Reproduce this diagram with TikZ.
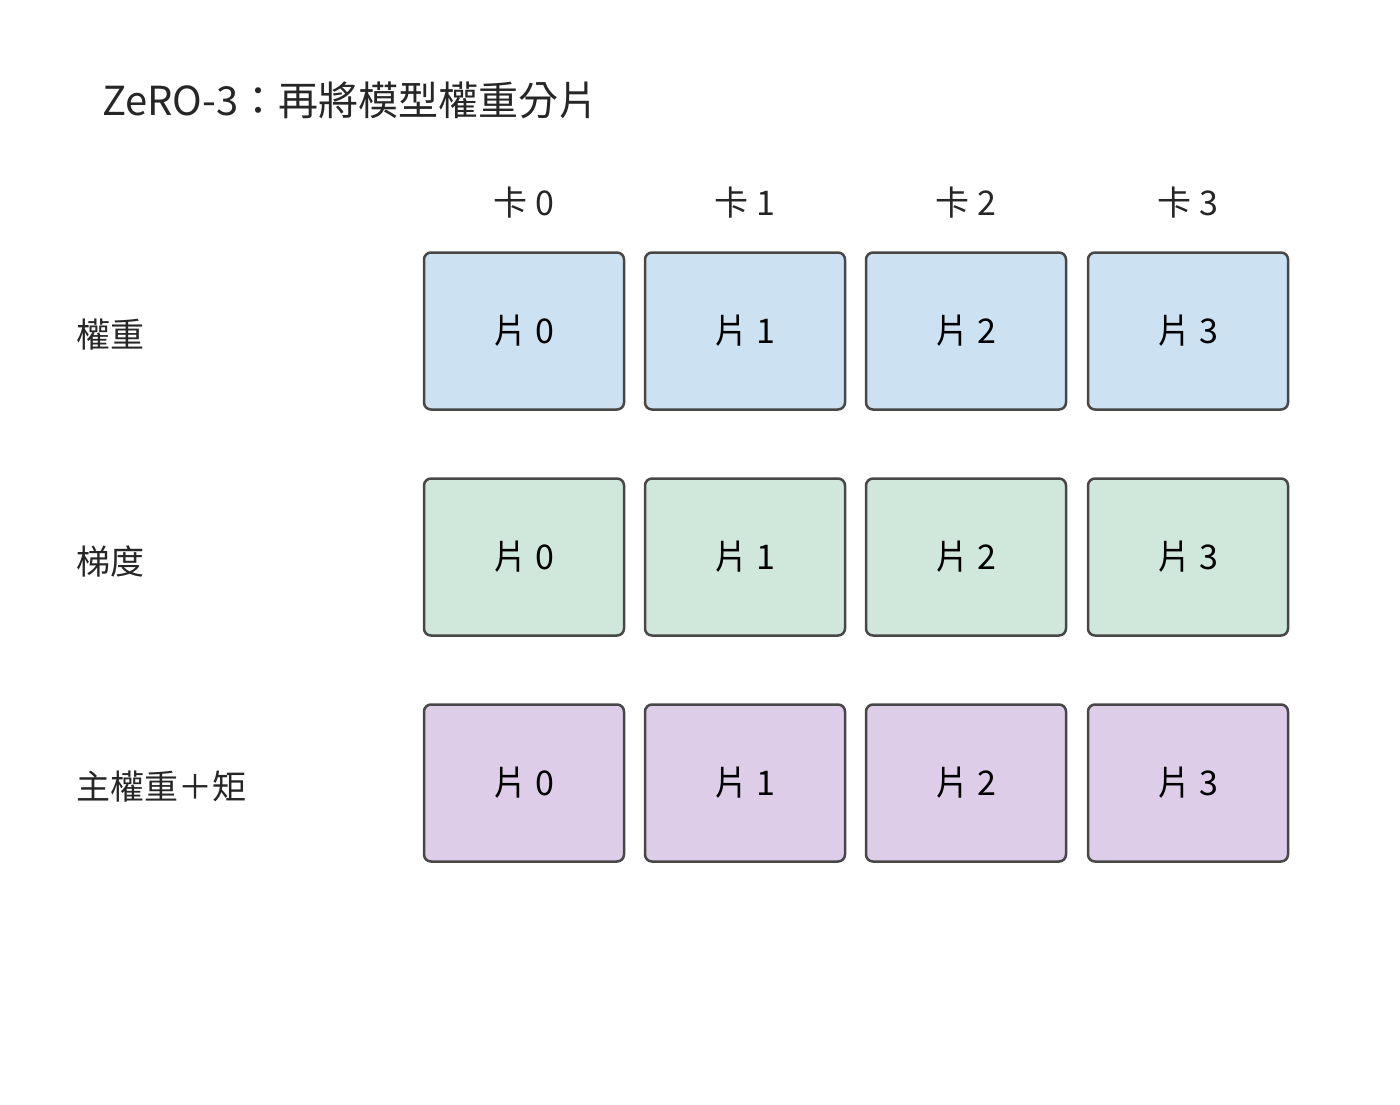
\documentclass[tikz,border=0pt]{standalone}
\usepackage{fontspec}
\setmainfont{Noto Sans CJK TC}
\begin{document}
\begin{tikzpicture}[x=1pt,y=-1pt,
  box/.style={draw=black!72,line width=2.5pt,rounded corners=7pt,minimum width=200pt,minimum height=157pt,inner sep=0pt,font=\fontsize{34}{40}\selectfont},
  lab/.style={font=\fontsize{34}{40}\selectfont,text=black!85,inner sep=0pt}]
\useasboundingbox (0,0) rectangle (1400,1104);
\definecolor{cb}{HTML}{CCE1F2}\definecolor{cg}{HTML}{D0E8DC}\definecolor{cp}{HTML}{DDCDE8}
\node[lab,anchor=west,font=\fontsize{40}{48}\selectfont] (title) at (102,100) {ZeRO-3：再將模型權重分片};
\foreach \i/\x in {0/524,1/745,2/966,3/1188}{
  \node[lab] (h\i) at (\x,203) {卡 \i};
  \node[box,fill=cb] (w\i) at (\x,331) {片 \i};
  \node[box,fill=cg] (g\i) at (\x,557) {片 \i};
  \node[box,fill=cp] (m\i) at (\x,783) {片 \i};
}
\node[lab,anchor=west] (rw) at (76,335) {權重};
\node[lab,anchor=west] (rg) at (76,561) {梯度};
\node[lab,anchor=west] (rm) at (76,787) {主權重＋矩};
\end{tikzpicture}
\end{document}
